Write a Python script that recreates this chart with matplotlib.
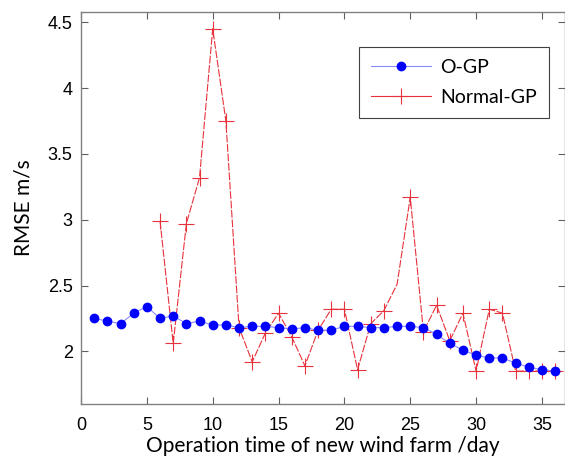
import numpy as np
import matplotlib.pyplot as plt
from matplotlib.ticker import FormatStrFormatter

# operation days
days = list(range(1, 37))

# O-GP RMSE (m/s)
ogp = [2.25, 2.23, 2.21, 2.29, 2.34, 2.25, 2.27, 2.21, 2.23, 2.20,
       2.20, 2.18, 2.19, 2.19, 2.18, 2.17, 2.18, 2.16, 2.16, 2.19,
       2.19, 2.18, 2.18, 2.19, 2.19, 2.18, 2.13, 2.06, 2.01, 1.97,
       1.95, 1.95, 1.91, 1.88, 1.86, 1.85]

# Normal-GP RMSE (m/s), no value for the first five days
normal_gp = [np.nan, np.nan, np.nan, np.nan, np.nan, 2.99, 2.06, 2.97, 3.32, 4.45,
             3.75, 2.18, 1.92, 2.14, 2.29, 2.11, 1.89, 2.16, 2.32, 2.32,
             1.86, 2.21, 2.31, 2.51, 3.17, 2.15, 2.35, 2.08, 2.29, 1.85,
             2.32, 2.29, 1.85, 1.85, 1.85, 1.85]

label_font = 'Lato'

fig = plt.figure(figsize=(5.65, 4.58), dpi=100)
ax = fig.add_axes([0.1434, 0.1179, 0.8566, 0.8566])

ax.plot(days, ogp, color='#8a8aff', lw=0.8, marker='o', markersize=6,
        markerfacecolor='#0000ff', markeredgecolor='#0000ff', label='O-GP', zorder=3)
# day 24 has no marker in the original figure
ax.plot(days, normal_gp, color='#e8323c', lw=0.8, dashes=(7, 1.5), marker='+',
        markersize=11, markeredgewidth=0.8, markeredgecolor='#e8323c',
        markevery=[i for i in range(len(days)) if i != 23],
        label='Normal-GP', zorder=2)

ax.set_xlim(0, 36.75)
ax.set_ylim(1.6, 4.58)
ax.set_xticks(range(0, 36, 5))
ax.set_yticks([2, 2.5, 3, 3.5, 4, 4.5])
ax.yaxis.set_major_formatter(FormatStrFormatter('%g'))

for s in ax.spines.values():
    s.set_color('#808080')
    s.set_linewidth(1.0)
ax.tick_params(direction='in', length=5, width=0.8, color='#606060',
               top=True, right=True, labelsize=13)
ax.tick_params(axis='x', pad=9)
ax.tick_params(axis='y', pad=6)
for t in ax.get_xticklabels() + ax.get_yticklabels():
    t.set_family('Liberation Sans')

ax.set_xlabel('Operation time of new wind farm /day', fontsize=15,
              family=label_font, labelpad=2)
ax.set_ylabel('RMSE m/s', fontsize=15, family=label_font, labelpad=10)

leg = ax.legend(loc='upper right', bbox_to_anchor=(0.967, 0.910), borderaxespad=0,
                fancybox=False, framealpha=1, edgecolor='#404040',
                prop={'family': label_font, 'size': 14}, handlelength=3.1,
                handletextpad=0.5, borderpad=0.6, labelspacing=0.7)
leg.get_frame().set_linewidth(0.8)
for h in leg.get_lines():
    h.set_linestyle('-')

fig.savefig('out.png', dpi=100)
